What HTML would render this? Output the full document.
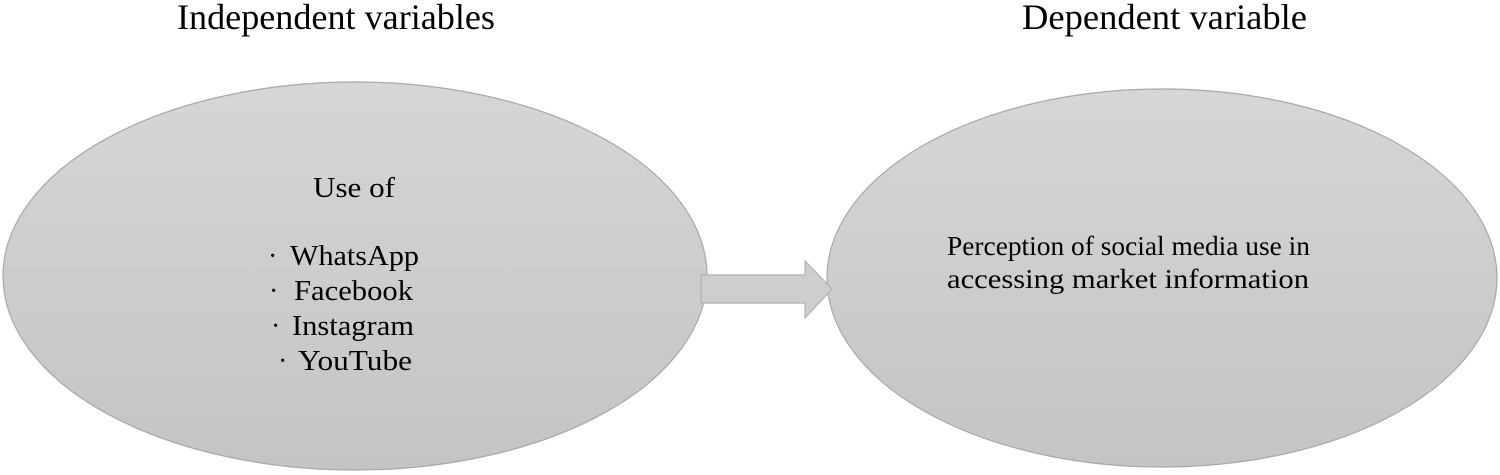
<!DOCTYPE html>
<html><head><style>
body{margin:0;width:1500px;height:475px;background:#fff;overflow:hidden;font-family:"Liberation Serif",serif;}
</style></head><body>
<svg width="1500" height="475" xmlns="http://www.w3.org/2000/svg" style="position:absolute;left:0;top:0">
<defs>
<linearGradient id="g" x1="0" y1="0" x2="0" y2="1">
<stop offset="0" stop-color="#d6d6d6"/><stop offset="1" stop-color="#c4c4c4"/>
</linearGradient>
</defs>
<ellipse cx="355" cy="276" rx="352" ry="194" fill="url(#g)" stroke="#a8a8a8" stroke-width="1.2"/>
<ellipse cx="1162" cy="278" rx="335" ry="189" fill="url(#g)" stroke="#a8a8a8" stroke-width="1.2"/>
<polygon points="701,275 805,275 805,261 832,289 805,318 805,303 701,303" fill="#cecece" stroke="#b0b0b0" stroke-width="1.2"/>
<g font-family="Liberation Serif, serif" fill="#000">
<text x="177" y="29" font-size="36" textLength="318" lengthAdjust="spacingAndGlyphs">Independent variables</text>
<text x="1022" y="29" font-size="36" textLength="285" lengthAdjust="spacingAndGlyphs">Dependent variable</text>
<text x="313" y="197" font-size="28" textLength="82" lengthAdjust="spacingAndGlyphs">Use of</text>
<text x="268" y="265" font-size="28">·</text>
<text x="290" y="265" font-size="28" textLength="129" lengthAdjust="spacingAndGlyphs">WhatsApp</text>
<text x="269" y="300" font-size="28">·</text>
<text x="294" y="300" font-size="28" textLength="119" lengthAdjust="spacingAndGlyphs">Facebook</text>
<text x="271" y="335" font-size="28">·</text>
<text x="292" y="335" font-size="28" textLength="122" lengthAdjust="spacingAndGlyphs">Instagram</text>
<text x="278" y="370" font-size="28">·</text>
<text x="298" y="370" font-size="28" textLength="114" lengthAdjust="spacingAndGlyphs">YouTube</text>
<text x="947" y="255" font-size="27" textLength="363" lengthAdjust="spacingAndGlyphs">Perception of social media use in</text>
<text x="947" y="288" font-size="27" textLength="362" lengthAdjust="spacingAndGlyphs">accessing market information</text>
</g>
</svg>
</body></html>
